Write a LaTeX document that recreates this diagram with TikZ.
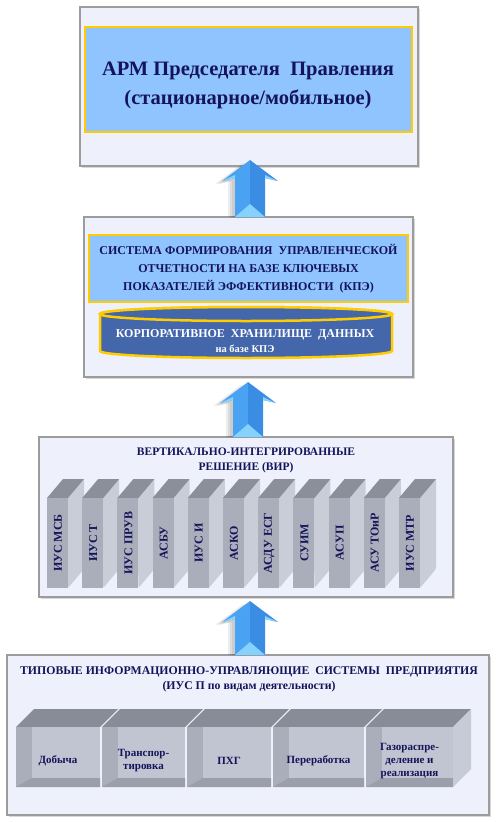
\documentclass[tikz,border=0pt]{standalone}
\usepackage{fontspec}
\setmainfont{Liberation Serif}
\usetikzlibrary{shadows}
\definecolor{panelbg}{HTML}{EEF1FB}
\definecolor{panelbd}{HTML}{9C9C9C}
\definecolor{skyfill}{HTML}{90C4FF}
\definecolor{goldline}{HTML}{FFCC00}
\definecolor{navytext}{HTML}{14145A}
\definecolor{cylfill}{HTML}{4466AA}
\definecolor{arrL}{HTML}{4AA3F2}
\definecolor{arrR}{HTML}{3A8DE2}
\definecolor{arrHi}{HTML}{86D2FF}
\definecolor{blkTop}{HTML}{8A8F99}
\definecolor{blkFront}{HTML}{A9AEBA}
\definecolor{blkSide}{HTML}{C8CDD8}
\definecolor{tbTop}{HTML}{878C96}
\definecolor{tbLeft}{HTML}{A9AEBA}
\definecolor{tbBack}{HTML}{C0C5D1}
\definecolor{tbFloor}{HTML}{9A9FAB}
\definecolor{tbSide}{HTML}{C6CBD7}

\newcommand\blockarrow[2]{%
\begin{scope}[shift={(#1)}]
 \foreach \s in {3,5,7}{%
 \fill[black,opacity=.07] (-\s,3) -- (-28-\s,24) -- (-15-\s,21) -- (-15-\s,#2) -- (0,#2) -- (0,21) -- cycle;}
 \fill[arrL] (0,0) -- (-28,21) -- (-15,18) -- (-15,#2) -- (0,#2) -- cycle;
 \fill[arrR] (0,0) -- (28,21) -- (15,18) -- (15,#2) -- (0,#2) -- cycle;
 \fill[arrHi] (-15,#2) -- (15,#2) -- (0,#2-13) -- cycle;
 \fill[arrHi] (-28,21) -- (-15,18) -- (-15,15) -- cycle;
 \fill[arrHi] (28,21) -- (15,18) -- (15,15) -- cycle;
\end{scope}}

\newcommand\vblock[3]{% name, x0, label
 \fill[blkSide,rounded corners=1.5pt] (#2+20,498) -- (#2+36,479) -- (#2+37,479) -- (#2+37,569) -- (#2+21,588) -- cycle;
 \fill[blkTop] (#2,498) -- (#2+21,498) -- (#2+37,479) -- (#2+16,479) -- cycle;
 \fill[blkFront] (#2,498) rectangle (#2+21,588);
 \node[vtext] (#1) at (#2+11,543) {#3};
}

\newcommand\tbox[4]{% name, x0, x1, label
 \fill[tbTop] (#2,727) -- (#3,727) -- (#3+18,709) -- (#2+18,709) -- cycle;
 \fill[tbLeft] (#2,727) rectangle (#3,787);
 \fill[tbBack] (#2+16,727) rectangle (#3,778);
 \fill[tbFloor] (#2,787) -- (#3,787) -- (#3,778) -- (#2+16,778) -- cycle;
 \node[htext] (#1) at ({(#2+#3)/2},761) {#4};
}

\begin{document}
\begin{tikzpicture}[x=1pt,y=-1pt,
  panel/.style={draw=panelbd,line width=1.2pt,fill=panelbg,inner sep=0,outer sep=0,
     drop shadow={opacity=0.3,shadow xshift=2pt,shadow yshift=-2pt}},
  inbox/.style={draw=goldline,line width=2.5pt,fill=skyfill,inner sep=0,outer sep=0},
  ttl/.style={text=navytext,align=center,inner sep=0},
  vtext/.style={rotate=90,text=navytext,inner sep=0,font=\fontsize{12}{14}\selectfont\bfseries},
  htext/.style={text=navytext,align=center,inner sep=0,font=\fontsize{11}{13}\selectfont\bfseries}]
\useasboundingbox (0,0) rectangle (500,822);
\fill[white] (0,0) rectangle (500,822);

% ---- panel 1
\node[panel,minimum width=338pt,minimum height=159pt] (p1) at (249,86.5) {};
\node[inbox,minimum width=327pt,minimum height=105pt] (b1) at (248.5,79.5) {};
\node[ttl,font=\fontsize{20.5}{29}\selectfont\bfseries] (t1) at (248,85)
  {АРМ Председателя~ Правления\\(стационарное/мобильное)};

% ---- panel 2
\node[panel,minimum width=329pt,minimum height=160pt] (p2) at (248.5,297) {};
\node[inbox,minimum width=319pt,minimum height=67pt] (b2) at (248.5,268.5) {};
\node[ttl,font=\fontsize{12}{18}\selectfont\bfseries] (t2) at (248.5,269)
  {СИСТЕМА ФОРМИРОВАНИЯ~ УПРАВЛЕНЧЕСКОЙ\\ОТЧЕТНОСТИ НА БАЗЕ КЛЮЧЕВЫХ\\ПОКАЗАТЕЛЕЙ ЭФФЕКТИВНОСТИ~ (КПЭ)};
\draw[goldline,line width=2.5pt,fill=cylfill] (100,314) -- (100,351)
  arc[start angle=180,end angle=360,x radius=146pt,y radius=7pt] -- (392,314)
  arc[start angle=0,end angle=180,x radius=146pt,y radius=7pt] -- cycle;
\draw[goldline,line width=2.5pt,fill=cylfill] (246,314) ellipse[x radius=146pt,y radius=7pt];
\node[text=white,align=center,inner sep=0,font=\fontsize{12}{14.5}\selectfont\bfseries] (cyl) at (245,341)
  {КОРПОРАТИВНОЕ~ ХРАНИЛИЩЕ~ ДАННЫХ\\{\fontsize{10.5}{12}\selectfont на базе КПЭ}};

% ---- panel 3
\node[panel,minimum width=414pt,minimum height=160pt] (p3) at (246,517) {};
\node[ttl,font=\fontsize{11.5}{15}\selectfont\bfseries] (t3) at (246,460)
  {ВЕРТИКАЛЬНО-ИНТЕГРИРОВАННЫЕ\\РЕШЕНИЕ (ВИР)};
\vblock{v1}{47}{ИУС МСБ}
\vblock{v2}{82.2}{ИУС Т}
\vblock{v3}{117.4}{ИУС ПРУВ}
\vblock{v4}{152.6}{АСБУ}
\vblock{v5}{187.8}{ИУС И}
\vblock{v6}{223}{АСКО}
\vblock{v7}{258.2}{АСДУ ЕСГ}
\vblock{v8}{293.4}{СУИМ}
\vblock{v9}{328.6}{АСУП}
\vblock{v10}{363.8}{АСУ ТОиР}
\vblock{v11}{399}{ИУС МТР}

% ---- panel 4
\node[panel,minimum width=482pt,minimum height=160pt] (p4) at (248,735) {};
\node[ttl,font=\fontsize{11.8}{15}\selectfont\bfseries] (t4) at (249,679)
  {ТИПОВЫЕ ИНФОРМАЦИОННО-УПРАВЛЯЮЩИЕ~ СИСТЕМЫ~ ПРЕДПРИЯТИЯ\\(ИУС П по видам деятельности)};
\tbox{h1}{16}{100}{Добыча}
\tbox{h2}{102}{185}{Транспор-\\тировка}
\tbox{h3}{187}{271}{ПХГ}
\tbox{h4}{273}{364}{Переработка}
\tbox{h5}{366}{453}{Газораспре-\\деление и\\реализация}
\fill[tbSide] (453,727) -- (471,709) -- (471,769) -- (453,787) -- cycle;

% ---- arrows
\coordinate (a1) at (250,160);
\coordinate (a2) at (248,382);
\coordinate (a3) at (250,601);
\blockarrow{a1}{57}
\blockarrow{a2}{55}
\blockarrow{a3}{54}
\end{tikzpicture}
\end{document}
